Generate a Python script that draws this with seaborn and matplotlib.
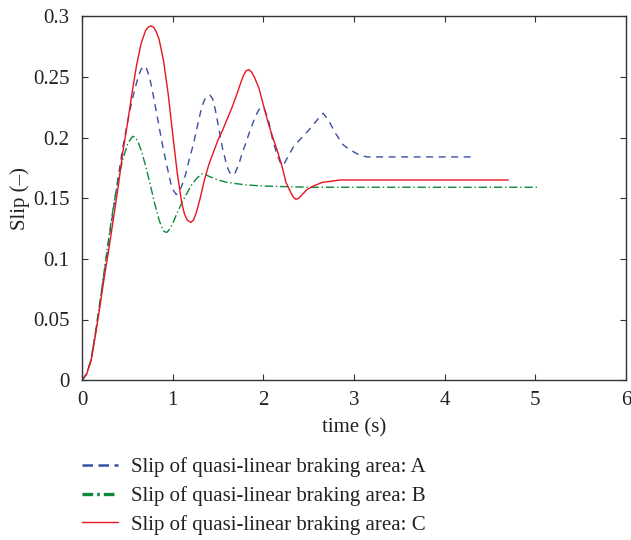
import pandas as pd
import numpy as np
import matplotlib
matplotlib.use("Agg")
import matplotlib.pyplot as plt
import seaborn as sns

# Datos (tiempo en s, slip)
t_a = [0, 0.05, 0.1, 0.15, 0.2, 0.25, 0.3, 0.35, 0.4, 0.45, 0.5, 0.55, 0.59, 0.62, 0.65,
       0.68, 0.71, 0.74, 0.77, 0.8, 0.85, 0.9, 0.95, 0.98, 1.01, 1.04, 1.07, 1.1, 1.14,
       1.18, 1.23, 1.28, 1.32, 1.35, 1.38, 1.41, 1.44, 1.47, 1.5, 1.55, 1.6, 1.63, 1.66,
       1.69, 1.73, 1.77, 1.8, 1.85, 1.9, 1.93, 1.96, 1.99, 2.02, 2.06, 2.1, 2.15, 2.19,
       2.22, 2.27, 2.33, 2.4, 2.5, 2.6, 2.66, 2.72, 2.8, 2.88, 2.95, 3.05, 3.14, 3.3,
       4.33]
slip_a = [0, 0.005, 0.017, 0.040, 0.065, 0.091, 0.117, 0.143, 0.168, 0.192, 0.212, 0.230,
          0.242, 0.250, 0.256, 0.259, 0.257, 0.251, 0.241, 0.229, 0.209, 0.189, 0.172,
          0.162, 0.156, 0.153, 0.155, 0.160, 0.169, 0.181, 0.195, 0.212, 0.225, 0.231,
          0.234, 0.235, 0.232, 0.223, 0.211, 0.191, 0.176, 0.171, 0.169, 0.171, 0.178,
          0.188, 0.194, 0.205, 0.215, 0.220, 0.224, 0.225, 0.222, 0.213, 0.199, 0.186,
          0.179, 0.177, 0.184, 0.192, 0.198, 0.206, 0.215, 0.220, 0.214, 0.203, 0.194,
          0.190, 0.186, 0.184, 0.184, 0.184]

t_b = [0, 0.05, 0.1, 0.15, 0.2, 0.25, 0.3, 0.35, 0.4, 0.45, 0.5, 0.53, 0.56, 0.59, 0.62,
       0.65, 0.7, 0.75, 0.8, 0.85, 0.88, 0.9, 0.92, 0.94, 0.97, 1.0, 1.05, 1.1, 1.15, 1.2,
       1.25, 1.29, 1.32, 1.35, 1.4, 1.5, 1.6, 1.7, 1.8, 2.0, 2.5, 5.02]
slip_b = [0, 0.005, 0.017, 0.040, 0.066, 0.093, 0.120, 0.145, 0.166, 0.182, 0.194, 0.198,
          0.201, 0.200, 0.196, 0.190, 0.177, 0.162, 0.146, 0.132, 0.126, 0.123, 0.122,
          0.122, 0.125, 0.129, 0.138, 0.146, 0.153, 0.160, 0.165, 0.168, 0.170, 0.170,
          0.168, 0.165, 0.163, 0.162, 0.161, 0.160, 0.159, 0.159]

t_c = [0, 0.05, 0.1, 0.15, 0.2, 0.25, 0.3, 0.35, 0.4, 0.45, 0.5, 0.55, 0.6, 0.65, 0.7,
       0.73, 0.76, 0.79, 0.82, 0.85, 0.9, 0.95, 1.0, 1.05, 1.1, 1.13, 1.16, 1.2, 1.23,
       1.26, 1.3, 1.35, 1.4, 1.45, 1.5, 1.55, 1.6, 1.65, 1.7, 1.75, 1.78, 1.81, 1.84,
       1.87, 1.9, 1.95, 2.0, 2.05, 2.1, 2.15, 2.2, 2.25, 2.3, 2.33, 2.36, 2.39, 2.43,
       2.48, 2.55, 2.65, 2.75, 2.85, 3.0, 4.7]
slip_c = [0, 0.005, 0.016, 0.038, 0.062, 0.087, 0.110, 0.135, 0.160, 0.188, 0.211, 0.236,
          0.259, 0.277, 0.288, 0.291, 0.292, 0.291, 0.287, 0.281, 0.263, 0.236, 0.203,
          0.171, 0.146, 0.137, 0.132, 0.130, 0.132, 0.138, 0.149, 0.165, 0.178, 0.188,
          0.198, 0.206, 0.215, 0.224, 0.234, 0.245, 0.251, 0.255, 0.256, 0.254, 0.250,
          0.241, 0.227, 0.213, 0.201, 0.190, 0.178, 0.163, 0.155, 0.151, 0.149, 0.150,
          0.153, 0.157, 0.160, 0.163, 0.164, 0.165, 0.165, 0.165]

nombres = ["Slip of quasi-linear braking area: A",
           "Slip of quasi-linear braking area: B",
           "Slip of quasi-linear braking area: C"]

df = pd.concat([
    pd.DataFrame({"t": t_a, "slip": slip_a, "serie": nombres[0]}),
    pd.DataFrame({"t": t_b, "slip": slip_b, "serie": nombres[1]}),
    pd.DataFrame({"t": t_c, "slip": slip_c, "serie": nombres[2]}),
])

sns.set_style("ticks")
plt.rcParams["font.family"] = ["Liberation Serif", "DejaVu Serif"]

colores = {nombres[0]: "#3b4ea3", nombres[1]: "#0b8a3c", nombres[2]: "#e8141f"}
guiones = {nombres[0]: (5, 4), nombres[1]: (6, 2, 1, 2), nombres[2]: ""}

fig = plt.figure(figsize=(6.31, 5.40), dpi=100)
ax = fig.add_axes([0.130, 0.296, 0.862, 0.674])

sns.lineplot(data=df, x="t", y="slip", hue="serie", style="serie", palette=colores,
             dashes=guiones, estimator=None, sort=False, linewidth=1.0, ax=ax)

ax.set_xlim(0, 6)
ax.set_ylim(0, 0.3)
ax.set_xticks([0, 1, 2, 3, 4, 5, 6])
ax.set_yticks([0, 0.05, 0.1, 0.15, 0.2, 0.25, 0.3])
ax.set_yticklabels(["0", "0.05", "0.1", "0.15", "0.2", "0.25", "0.3"])
ax.tick_params(direction="in", length=4, top=True, right=True, labelsize=15,
               color="#333333", labelcolor="#222222")
ax.tick_params(axis="y", pad=9)
ax.tick_params(axis="x", pad=8)
for s in ax.spines.values():
    s.set_color("#333333")
    s.set_linewidth(1.0)
ax.set_xlabel("time (s)", fontsize=15, color="#222222", labelpad=6)
ax.set_ylabel("Slip (–)", fontsize=15, color="#222222", labelpad=2)

sns.move_legend(ax, "upper left", bbox_to_anchor=(0.0, -0.212), frameon=False,
                title=None, fontsize=15, handlelength=1.75, handletextpad=0.58,
                labelspacing=0.42, borderaxespad=0, borderpad=0)
leg = ax.get_legend()
# grosor y patron de las muestras de la leyenda
for h, lw, ds in zip(leg.get_lines(), [1.8, 2.4, 1.0],
                     [(0, (4.2, 2.2)), (0, (3.2, 1.2, 0.8, 1.2)), "-"]):
    h.set_linewidth(lw)
    h.set_linestyle(ds)
for txt in leg.get_texts():
    txt.set_color("#222222")

fig.savefig("out.png", dpi=100)
